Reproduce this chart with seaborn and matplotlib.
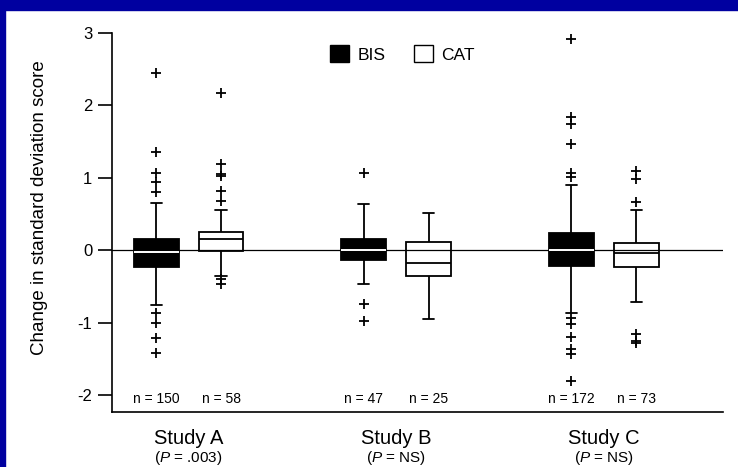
import numpy as np
import pandas as pd
import matplotlib
matplotlib.use("Agg")
import matplotlib.pyplot as plt
import seaborn as sns
from matplotlib.patches import Rectangle, Patch

# ---------------- data ----------------
studies = ["Study A", "Study B", "Study C"]
p_values = [".003", "NS", "NS"]
groups = ["BIS", "CAT"]
n_bis = [150, 47, 172]
n_cat = [58, 25, 73]

bis_whislo = [-0.76, -0.47, -0.86]
bis_q1 = [-0.23, -0.13, -0.22]
bis_med = [-0.02, 0.01, 0.00]
bis_q3 = [0.15, 0.16, 0.235]
bis_whishi = [0.65, 0.64, 0.90]

cat_whislo = [-0.36, -0.95, -0.71]
cat_q1 = [-0.01, -0.36, -0.23]
cat_med = [0.15, -0.18, -0.04]
cat_q3 = [0.25, 0.11, 0.10]
cat_whishi = [0.55, 0.52, 0.55]

bis_outliers_a = [2.45, 1.35, 1.07, 0.94, 0.81, -0.87, -1.00, -1.21, -1.42]
bis_outliers_b = [1.06, -0.74, -0.98]
bis_outliers_c = [2.91, 1.84, 1.74, 1.47, 1.07, 1.01,
                  -0.94, -1.02, -1.19, -1.36, -1.43, -1.80]
cat_outliers_a = [2.17, 1.19, 1.05, 1.03, 0.82, 0.68, -0.39, -0.46]
cat_outliers_b = []
cat_outliers_c = [1.09, 0.98, 0.66, -1.16, -1.25, -1.28]

y_label = "Change in standard deviation score"
y_ticks = [-2, -1, 0, 1, 2, 3]

# ---------------- build table ----------------
summary = {
    "BIS": [bis_whislo, bis_q1, bis_med, bis_q3, bis_whishi],
    "CAT": [cat_whislo, cat_q1, cat_med, cat_q3, cat_whishi],
}
outliers = {
    "BIS": [bis_outliers_a, bis_outliers_b, bis_outliers_c],
    "CAT": [cat_outliers_a, cat_outliers_b, cat_outliers_c],
}
counts = {"BIS": n_bis, "CAT": n_cat}

rows = []
for g in groups:
    for i, s in enumerate(studies):
        for arr in summary[g]:
            rows.append({"study": s, "group": g, "value": arr[i]})
df = pd.DataFrame(rows)

# ---------------- style ----------------
sns.set_style("ticks")
plt.rcParams["font.family"] = ["Liberation Sans", "DejaVu Sans"]
plt.rcParams["axes.unicode_minus"] = False
plt.rcParams["mathtext.fontset"] = "custom"
plt.rcParams["mathtext.rm"] = "Liberation Sans"
plt.rcParams["mathtext.it"] = "Liberation Sans:italic"
for key in ("text.color", "axes.labelcolor", "xtick.color", "ytick.color",
            "axes.edgecolor"):
    plt.rcParams[key] = "black"

fig = plt.figure(figsize=(7.38, 4.67), dpi=100, facecolor="white")
ax = fig.add_axes([0.1514, 0.1178, 0.8283, 0.8122])
ax.set_facecolor("white")

ax.axhline(0, color="black", lw=0.9, zorder=1.5)

sns.boxplot(data=df, x="study", y="value", hue="group", order=studies,
            hue_order=groups, palette={"BIS": "black", "CAT": "white"},
            linecolor="black", linewidth=1.3, width=0.625, gap=0.31,
            whis=(0, 100), showfliers=False, legend=False, ax=ax)

for cont, g in zip(ax.containers, groups):
    centers = []
    for box in cont.boxes:
        v = box.get_path().vertices
        xmin, xmax = v[:, 0].min(), v[:, 0].max()
        centers.append((xmin + xmax) / 2)
        bw = xmax - xmin
        if g == "CAT":
            box.set_facecolor((1, 1, 1, 0))
    if g == "BIS":
        for med in cont.medians:
            med.set_color("white")
            med.set_linewidth(1.4)
    for cap in cont.caps:
        xd = np.asarray(cap.get_xdata(), dtype=float)
        c = xd.mean()
        cap.set_xdata([c - bw * 0.125, c + bw * 0.125])
    for i, xc in enumerate(centers):
        ys = outliers[g][i]
        if len(ys):
            sns.scatterplot(x=[xc] * len(ys), y=ys, marker="+", color="black",
                            s=50, linewidth=1.3, ax=ax, legend=False, zorder=3)
        ax.text(xc, -2.05, f"n = {counts[g][i]}", ha="center", va="center",
                fontsize=10, color="black")

ax.set_ylim(-2.23, 3.0)
ax.set_xlim(-0.37, 2.574)
ax.set_yticks(y_ticks)
ax.set_yticklabels([str(t) for t in y_ticks])
ax.set_xlabel("")
ax.set_ylabel(y_label, fontsize=13.5, color="black")
ax.yaxis.label.set_verticalalignment("center")
ax.yaxis.set_label_coords(-0.118, 0.54)

sns.despine(ax=ax)
for sp in ("left", "bottom"):
    ax.spines[sp].set_linewidth(1.2)
    ax.spines[sp].set_color("black")
ax.tick_params(axis="y", length=10, width=1.2, direction="out", pad=4,
               labelsize=12, colors="black")
ax.tick_params(axis="x", length=0, pad=12, labelsize=14.5, colors="black")
ax.set_xticks(range(len(studies)))
ax.set_xticklabels(studies)

for i, p in enumerate(p_values):
    ax.annotate(r"($\mathit{P}$ = " + p + ")", xy=(i, 0),
                xycoords=("data", "axes fraction"), xytext=(0, -46),
                textcoords="offset pixels", ha="center", va="center",
                fontsize=11, color="black")

handles = [Patch(facecolor="black", edgecolor="black"),
           Patch(facecolor="white", edgecolor="black")]
leg = ax.legend(handles, groups, ncol=2, frameon=False, loc="center left",
                bbox_to_anchor=(0.357, 0.944), handlelength=1.1,
                handleheight=1.1, handletextpad=0.5, columnspacing=1.6,
                fontsize=12.5, borderaxespad=0, borderpad=0)
for t in leg.get_texts():
    t.set_color("black")

# blue frame
fig.patches.append(Rectangle((0, 1 - 10 / 467), 1, 10 / 467,
                             transform=fig.transFigure, color="#0000A0",
                             zorder=-1))
fig.patches.append(Rectangle((0, 0), 5 / 738, 1, transform=fig.transFigure,
                             color="#0000A0", zorder=-1))

fig.savefig("out.png", dpi=100, facecolor="white")
